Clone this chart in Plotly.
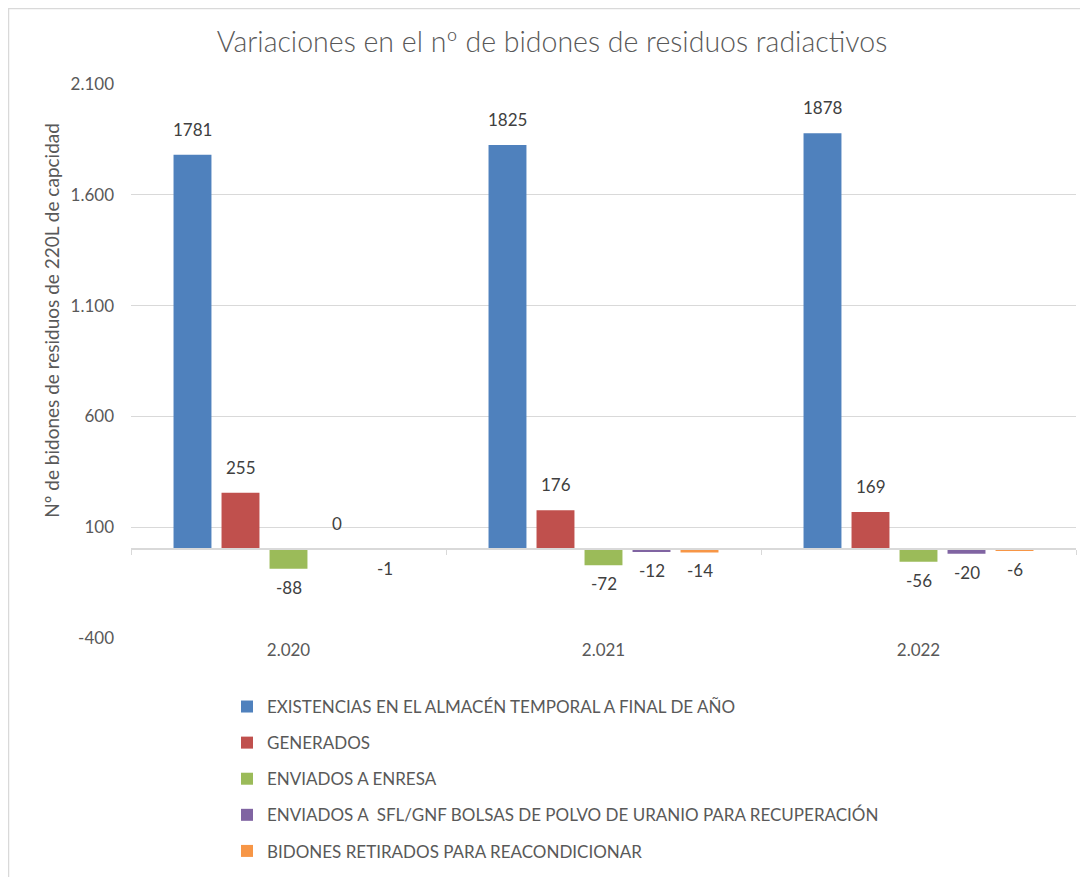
import plotly.graph_objects as go

years = ["2.020", "2.021", "2.022"]
series_names = [
    "EXISTENCIAS EN EL ALMACÉN TEMPORAL A FINAL DE AÑO",
    "GENERADOS",
    "ENVIADOS A ENRESA",
    "ENVIADOS A  SFL/GNF BOLSAS DE POLVO DE URANIO PARA RECUPERACIÓN",
    "BIDONES RETIRADOS PARA REACONDICIONAR",
]
existencias = [1781, 1825, 1878]
generados = [255, 176, 169]
enviados_enresa = [-88, -72, -56]
enviados_sfl = [0, -12, -20]
retirados = [-1, -14, -6]

y_ticks = [-400, 100, 600, 1100, 1600, 2100]
y_ticktext = ["-400", "100", "600", "1.100", "1.600", "2.100"]

PAL = ["#4f81bd", "#c0504d", "#9bbb59", "#8064a2", "#f79646"]
INK = {"text": "#595959", "label": "#404040", "grid": "#d9d9d9"}
FONT = "Lato, 'Open Sans', sans-serif"
Y_MIN, Y_MAX = -400, 2100

all_series = [existencias, generados, enviados_enresa, enviados_sfl, retirados]

fig = go.Figure()
for i, (name, vals) in enumerate(zip(series_names, all_series)):
    fig.add_bar(
        x=years, y=vals, name=name,
        marker_color=PAL[i], marker_line_width=0,
        legendgroup=f"g{i}", hoverinfo="x+y+name",
    )
    # etiquetas de datos al estilo Excel (fuera del extremo, algo separadas)
    for j, v in enumerate(vals):
        fig.add_annotation(
            x=j, y=v, text=str(v), showarrow=False,
            xshift=(i - 2) * 48,
            yanchor="bottom" if v >= 0 else "top",
            yshift=13 if v >= 0 else -6,
            font=dict(size=17, color=INK["label"]),
        )

# eje de categorías en y=0 (línea + marcas entre años), como en Excel
fig.add_scatter(x=years, y=[0] * len(years), xaxis="x2", mode="none",
                showlegend=False, hoverinfo="skip")

fig.update_layout(
    width=1088, height=877,
    paper_bgcolor="white", plot_bgcolor="white",
    font=dict(family=FONT, color=INK["text"], size=17),
    title=dict(text="Variaciones en el nº de bidones de residuos radiactivos",
               x=0.5, xanchor="center", y=0.961, yanchor="middle",
               font=dict(size=28.5, color=INK["text"], weight=300)),
    margin=dict(l=123, r=20, t=76, b=247),
    barmode="group", bargap=0.238, bargroupgap=0.21,
    showlegend=True,
    legend=dict(orientation="v", x=0.1016, xanchor="left", y=-0.092, yanchor="top",
                tracegroupgap=11, font=dict(size=17, color=INK["text"]),
                itemwidth=30, traceorder="grouped"),
    xaxis2=dict(overlaying="x", matches="x", type="category", anchor="free",
                position=(0 - Y_MIN) / (Y_MAX - Y_MIN),
                showline=True, linecolor=INK["grid"], linewidth=1.5,
                ticks="outside", ticklen=5, tickcolor=INK["grid"], tickson="boundaries",
                showticklabels=False, showgrid=False),
    # borde del área del gráfico (izquierda y arriba visibles)
    shapes=[dict(type="rect", xref="paper", yref="paper",
                 x0=-122.5 / 945, x1=1.2, y0=-0.8, y1=1 + 75.5 / 554,
                 line=dict(color=INK["grid"], width=1.5), fillcolor="rgba(0,0,0,0)", layer="above")],
)
# título del eje Y como anotación para centrarlo donde lo pone Excel
fig.add_annotation(
    text="Nº de bidones de residuos de 220L de capcidad", textangle=-90,
    xref="paper", yref="paper", x=-0.085, y=0.574, xanchor="center", yanchor="middle",
    showarrow=False, font=dict(size=19, color=INK["text"]),
)
fig.update_xaxes(selector=dict(anchor="y"), type="category", showgrid=False, showline=False, ticks="",
                 ticklabelstandoff=11, tickfont=dict(size=17))
fig.update_yaxes(
    range=[Y_MIN, Y_MAX], tickvals=y_ticks, ticktext=y_ticktext,
    gridcolor=INK["grid"], gridwidth=1, zeroline=False,
    showline=False, ticklabelstandoff=16, tickfont=dict(size=17),
)

fig.write_html("out.html")
